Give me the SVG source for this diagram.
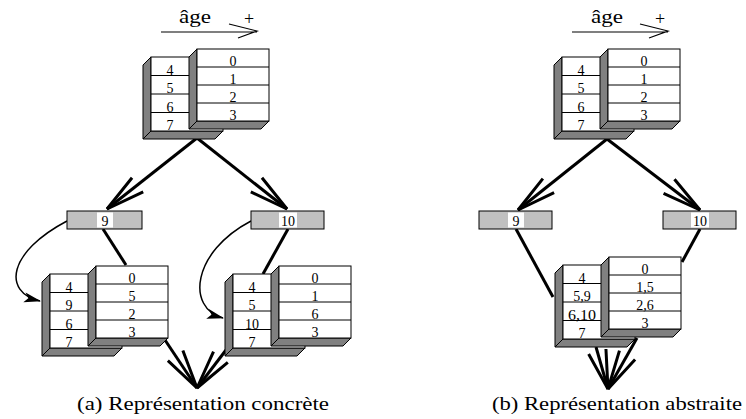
<svg xmlns="http://www.w3.org/2000/svg" width="746" height="419" viewBox="0 0 746 419">
<style>
  .side{fill:#808080;stroke:#000;stroke-width:1}
  .cell{fill:#fff;stroke:#000;stroke-width:1}
  .ln{stroke:#000;stroke-width:1;fill:none}
  .num{font-family:"Liberation Serif","Times New Roman",Times,serif;font-size:14px;text-anchor:middle;fill:#000}
  .lbl{font-family:"Liberation Serif","Times New Roman",Times,serif;font-size:14px;text-anchor:middle;fill:#000}
  .cap{font-family:"Liberation Serif","Times New Roman",Times,serif;font-size:18px;fill:#000}
  .node{fill:#c0c0c0;stroke:#000;stroke-width:1}
  .thick{stroke:#000;stroke-width:3;fill:none}
  .thin{stroke:#000;stroke-width:1.5;fill:none}
</style>
<defs>
  <marker id="vopen" markerUnits="userSpaceOnUse" orient="auto" overflow="visible" markerWidth="1" markerHeight="1" refX="0" refY="0">
    <path d="M-39,-9 L0,0 L-39,9" stroke="#000" stroke-width="3" fill="none"/>
  </marker>
  <marker id="solid" markerUnits="userSpaceOnUse" orient="auto" overflow="visible" markerWidth="1" markerHeight="1" refX="0" refY="0">
    <path d="M1,0 L-16,-5 L-12,0 L-16,5 Z" fill="#000"/>
  </marker>
  <g id="blk">
    <polygon class="side" points="-8,16 0,8 0,82 -8,90"/>
    <polygon class="side" points="0,82 72,82 64,90 -8,90"/>
    <rect class="cell" x="0" y="8" width="72" height="74"/>
    <path class="ln" d="M0,26.5H72M0,45H72M0,63.5H72"/>
    <polygon class="side" points="38,8 46,0 46,72 38,80"/>
    <polygon class="side" points="46,72 118,72 110,80 38,80"/>
    <rect class="cell" x="46" y="0" width="72" height="72"/>
    <path class="ln" d="M46,18H118M46,36H118M46,54H118"/>
  </g>
</defs>

<g id="age-a">
  <text class="cap" x="195" y="23" text-anchor="middle" textLength="32" lengthAdjust="spacingAndGlyphs">âge</text>
  <text class="cap" x="249" y="25" text-anchor="middle" font-size="18">+</text>
  <path d="M161,32 H257 M229,24 L257,31 L238,38" stroke="#000" stroke-width="1.2" fill="none"/>
</g>
<g id="age-b">
  <text class="cap" x="607" y="23" text-anchor="middle" textLength="32" lengthAdjust="spacingAndGlyphs">âge</text>
  <text class="cap" x="660" y="25" text-anchor="middle" font-size="18">+</text>
  <path d="M572,32 H668 M640,24 L668,31 L649,38" stroke="#000" stroke-width="1.2" fill="none"/>
</g>

<g id="connectors">
  <path class="thick" d="M197,138 L107,209" marker-end="url(#vopen)"/>
  <path class="thick" d="M197,138 L287,209" marker-end="url(#vopen)"/>
  <path class="thick" d="M103,229 L126,265"/>
  <path class="thick" d="M288,229 L263,274"/>
  <path class="thin" d="M67,221 C8,252 2,292 40,301" marker-end="url(#solid)"/>
  <path class="thin" d="M251,221 C192,252 186,308 223,318" marker-end="url(#solid)"/>
  <path class="thick" d="M165,340 L197,388" marker-end="url(#vopen)"/>
  <path class="thick" d="M226,350 L197,388" marker-end="url(#vopen)"/>

  <path class="thick" d="M607,139 L518,210" marker-end="url(#vopen)"/>
  <path class="thick" d="M607,139 L700,210" marker-end="url(#vopen)"/>
  <path class="thick" d="M516,229 L553,297"/>
  <path class="thick" d="M700,229 L682,262"/>
  <path class="thick" d="M596,347 L608,389" marker-end="url(#vopen)"/>
  <path class="thick" d="M637,338 L608,389" marker-end="url(#vopen)"/>
</g>

<g id="block-a-top" transform="translate(151,49)">
  <use href="#blk"/>
  <text class="num" x="19" y="25.5">4</text>
  <text class="num" x="19" y="44">5</text>
  <text class="num" x="19" y="62.5">6</text>
  <text class="num" x="19" y="81">7</text>
  <text class="num" x="82" y="17">0</text>
  <text class="num" x="82" y="35">1</text>
  <text class="num" x="82" y="53">2</text>
  <text class="num" x="82" y="71">3</text>
</g>

<g id="node-a-9">
  <rect class="node" x="67" y="211" width="75" height="18"/>
  <rect x="97" y="212.5" width="16" height="15" fill="#fff"/>
  <text class="lbl" x="105" y="226">9</text>
</g>
<g id="node-a-10">
  <rect class="node" x="251" y="211" width="73" height="18"/>
  <rect x="279" y="212.5" width="18" height="15" fill="#fff"/>
  <text class="lbl" x="288" y="226">10</text>
</g>

<g id="block-a-left" transform="translate(50,266)">
  <use href="#blk"/>
  <text class="num" x="19" y="25.5">4</text>
  <text class="num" x="19" y="44">9</text>
  <text class="num" x="19" y="62.5">6</text>
  <text class="num" x="19" y="81">7</text>
  <text class="num" x="82" y="17">0</text>
  <text class="num" x="82" y="35">5</text>
  <text class="num" x="82" y="53">2</text>
  <text class="num" x="82" y="71">3</text>
</g>

<g id="block-a-right" transform="translate(233,266)">
  <use href="#blk"/>
  <text class="num" x="19" y="25.5">4</text>
  <text class="num" x="19" y="44">5</text>
  <text class="num" x="19" y="62.5">10</text>
  <text class="num" x="19" y="81">7</text>
  <text class="num" x="82" y="17">0</text>
  <text class="num" x="82" y="35">1</text>
  <text class="num" x="82" y="53">6</text>
  <text class="num" x="82" y="71">3</text>
</g>

<g id="block-b-top" transform="translate(562,49)">
  <use href="#blk"/>
  <text class="num" x="19" y="25.5">4</text>
  <text class="num" x="19" y="44">5</text>
  <text class="num" x="19" y="62.5">6</text>
  <text class="num" x="19" y="81">7</text>
  <text class="num" x="82" y="17">0</text>
  <text class="num" x="82" y="35">1</text>
  <text class="num" x="82" y="53">2</text>
  <text class="num" x="82" y="71">3</text>
</g>

<g id="node-b-9">
  <rect class="node" x="479" y="211" width="73" height="18"/>
  <rect x="508" y="212.5" width="16" height="15" fill="#fff"/>
  <text class="lbl" x="516" y="226">9</text>
</g>
<g id="node-b-10">
  <rect class="node" x="663" y="211" width="73" height="18"/>
  <rect x="691" y="212.5" width="18" height="15" fill="#fff"/>
  <text class="lbl" x="700" y="226">10</text>
</g>

<g id="block-b-bottom" transform="translate(563,257)">
  <use href="#blk"/>
  <text class="num" x="19" y="25.5">4</text>
  <text class="num" x="19" y="44">5,9</text>
  <text class="num" x="19" y="62.5" textLength="28" lengthAdjust="spacingAndGlyphs">6,10</text>
  <text class="num" x="19" y="81">7</text>
  <text class="num" x="82" y="17">0</text>
  <text class="num" x="82" y="35">1,5</text>
  <text class="num" x="82" y="53">2,6</text>
  <text class="num" x="82" y="71">3</text>
</g>

<g id="captions">
  <text class="cap" x="77" y="410" textLength="252" lengthAdjust="spacingAndGlyphs">(a) Représentation concrète</text>
  <text class="cap" x="492" y="410" textLength="250" lengthAdjust="spacingAndGlyphs">(b) Représentation abstraite</text>
</g>
</svg>
